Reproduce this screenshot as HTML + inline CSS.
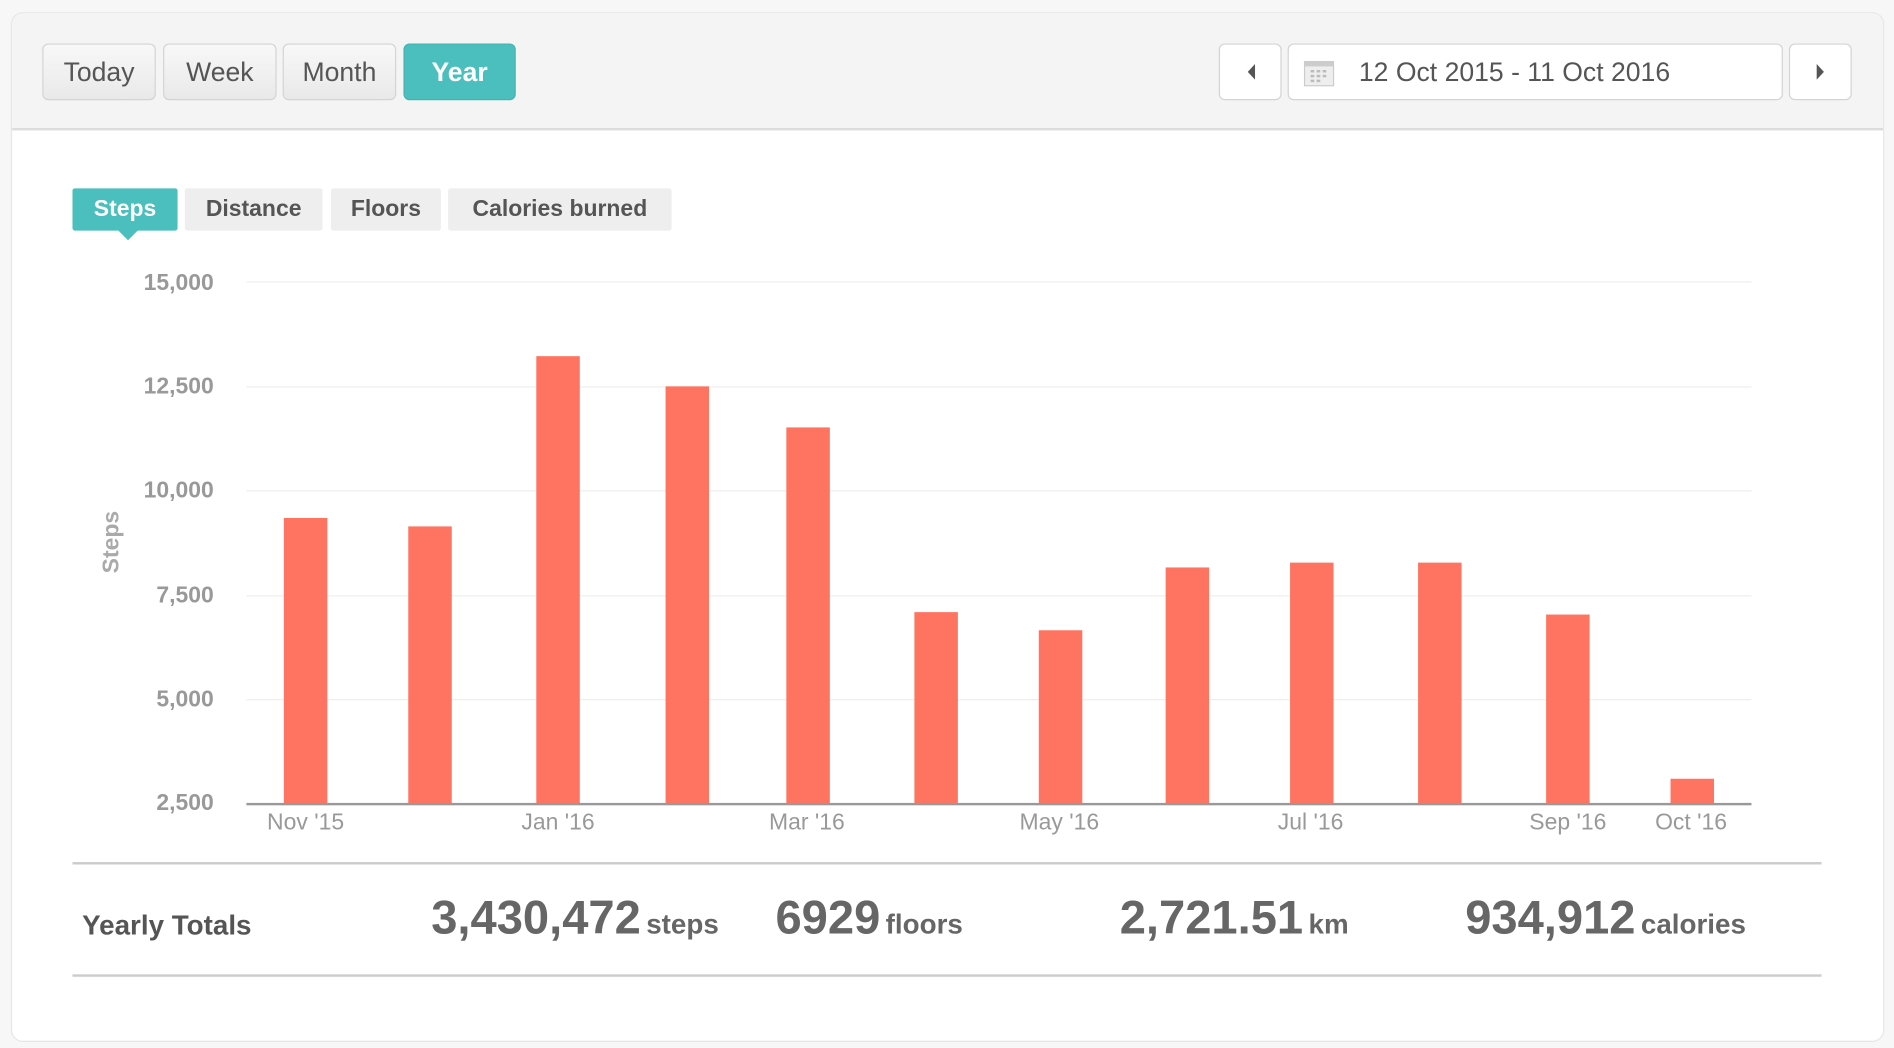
<!DOCTYPE html>
<html><head><meta charset="utf-8"><style>
html,body{margin:0;padding:0;width:1894px;height:1048px;overflow:hidden;background:#f7f7f7;font-family:"Liberation Sans",Arial,sans-serif}
#w{position:absolute;left:0;top:0;width:1568px;height:868px;transform:scale(1.20791,1.20737);transform-origin:0 0}
.a{position:absolute}
.card{left:9px;top:10px;width:1549px;height:851px;background:#fff;border:1px solid #e6e6e6;border-radius:10px;overflow:hidden}
.hdr{left:0;top:0;width:1549px;height:95px;background:#f4f4f4;border-bottom:2px solid #dcdcdc}
.btn{top:36px;height:45px;border:1px solid #d4d4d4;border-radius:5px;background:linear-gradient(#f8f8f8,#e9e9e9);color:#555;font-size:22px;line-height:45px;text-align:center}
.yr{background:#4bbfbd;border-color:#43b3b1;color:#fff;font-weight:bold}
.tab{top:156px;height:35px;background:#eeeeee;color:#555;font-weight:bold;font-size:19px;line-height:35px;text-align:center;border-radius:2px}
.yl{width:80px;text-align:right;font-size:19px;color:#999;font-weight:bold;left:97px}
.g{left:204px;width:1246px;height:1px;background:#eee}
.bar{width:36px;background:#ff7361}
.xl{font-size:19px;color:#999;top:671px;width:100px;text-align:center}
.big{font-size:39px;font-weight:bold;color:#666}
.unit{font-size:23px;font-weight:bold;color:#666}
</style></head><body><div id="w">
<div class="a card">
<div class="a hdr"></div>
</div>
<div class="a btn" style="left:35px;width:92px">Today</div>
<div class="a btn" style="left:135px;width:92px">Week</div>
<div class="a btn" style="left:234px;width:92px">Month</div>
<div class="a btn yr" style="left:334px;width:91px">Year</div>
<div class="a btn" style="left:1009px;width:50px;background:#fff"><svg width="50" height="45"><polygon points="29,16 29,29 23,22.5" fill="#555"/></svg></div>
<div class="a btn" style="left:1066px;width:408px;background:#fff;text-align:left"><svg class="a" style="left:12px;top:11px" width="26" height="24"><rect x="1" y="3" width="24" height="20" fill="#eee" stroke="#ccc"/><rect x="1" y="3" width="24" height="4" fill="#ccc"/><g fill="#bbb"><rect x="6" y="10" width="3" height="2"/><rect x="11" y="10" width="3" height="2"/><rect x="16" y="10" width="3" height="2"/><rect x="6" y="14" width="3" height="2"/><rect x="11" y="14" width="3" height="2"/><rect x="16" y="14" width="3" height="2"/><rect x="6" y="18" width="3" height="2"/><rect x="11" y="18" width="3" height="2"/></g></svg><span class="a" style="left:58px;top:0">12 Oct 2015 - 11 Oct 2016</span></div>
<div class="a btn" style="left:1481px;width:50px;background:#fff"><svg width="50" height="45"><polygon points="22,16 22,29 28,22.5" fill="#555"/></svg></div>

<div class="a tab" style="left:60px;width:87px;background:#4bbfbd;color:#fff">Steps</div>
<svg class="a" style="left:97px;top:190px" width="18" height="10"><polygon points="0,0 18,0 9,9" fill="#4bbfbd"/></svg>
<div class="a tab" style="left:153px;width:114px">Distance</div>
<div class="a tab" style="left:274px;width:91px">Floors</div>
<div class="a tab" style="left:371px;width:185px">Calories burned</div>

<div class="a yl" style="top:224px">15,000</div>
<div class="a yl" style="top:310px">12,500</div>
<div class="a yl" style="top:396px">10,000</div>
<div class="a yl" style="top:483px">7,500</div>
<div class="a yl" style="top:569px">5,000</div>
<div class="a yl" style="top:655px">2,500</div>
<div class="a g" style="top:233px"></div>
<div class="a g" style="top:320px"></div>
<div class="a g" style="top:406px"></div>
<div class="a g" style="top:493px"></div>
<div class="a g" style="top:579px"></div>
<div class="a" style="left:60px;top:438px;width:66px;text-align:center;transform:rotate(-90deg);font-size:19px;font-weight:bold;color:#aaa">Steps</div>

<div class="a bar" style="left:235px;top:429px;height:237px"></div>
<div class="a bar" style="left:338px;top:436px;height:230px"></div>
<div class="a bar" style="left:444px;top:295px;height:371px"></div>
<div class="a bar" style="left:551px;top:320px;height:346px"></div>
<div class="a bar" style="left:651px;top:354px;height:312px"></div>
<div class="a bar" style="left:757px;top:507px;height:159px"></div>
<div class="a bar" style="left:860px;top:522px;height:144px"></div>
<div class="a bar" style="left:965px;top:470px;height:196px"></div>
<div class="a bar" style="left:1068px;top:466px;height:200px"></div>
<div class="a bar" style="left:1174px;top:466px;height:200px"></div>
<div class="a bar" style="left:1280px;top:509px;height:157px"></div>
<div class="a bar" style="left:1383px;top:645px;height:21px"></div>
<div class="a" style="left:204px;top:665px;width:1246px;height:2px;background:#999"></div>

<div class="a xl" style="left:203px">Nov '15</div>
<div class="a xl" style="left:412px">Jan '16</div>
<div class="a xl" style="left:618px">Mar '16</div>
<div class="a xl" style="left:827px">May '16</div>
<div class="a xl" style="left:1035px">Jul '16</div>
<div class="a xl" style="left:1248px">Sep '16</div>
<div class="a xl" style="left:1350px">Oct '16</div>

<div class="a" style="left:60px;top:714px;width:1448px;height:2px;background:#ccc"></div>
<div class="a" style="left:60px;top:807px;width:1448px;height:2px;background:#ccc"></div>
<div class="a" style="left:68px;top:753px;font-size:23px;font-weight:bold;color:#555">Yearly Totals</div>
<div class="a" style="left:357px;top:739px;white-space:nowrap"><span class="big">3,430,472</span> <span class="unit">steps</span></div>
<div class="a" style="left:642px;top:739px;white-space:nowrap"><span class="big">6929</span> <span class="unit">floors</span></div>
<div class="a" style="left:927px;top:739px;white-space:nowrap"><span class="big">2,721.51</span> <span class="unit">km</span></div>
<div class="a" style="left:1213px;top:739px;white-space:nowrap"><span class="big">934,912</span> <span class="unit">calories</span></div>
</div></body></html>
